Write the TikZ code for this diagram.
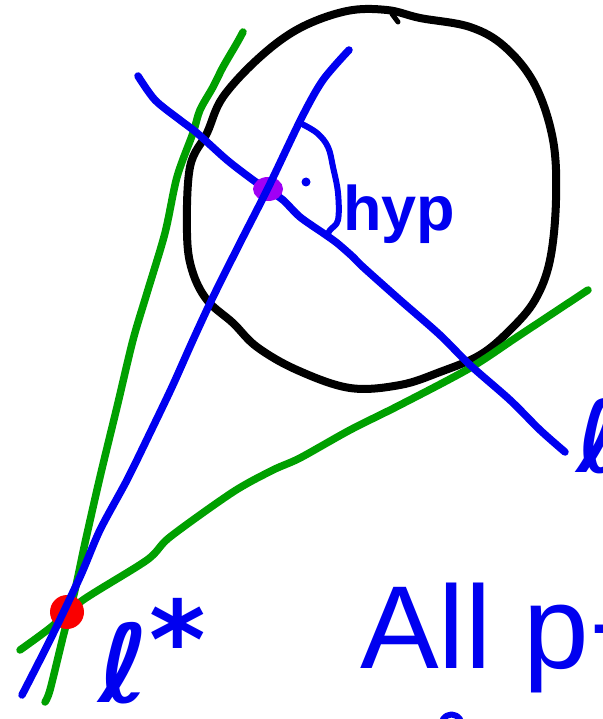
\documentclass[tikz,border=0pt]{standalone}
\usepackage{fontspec}
\setmainfont{Liberation Sans}
\newfontfamily\ellfont{DejaVu Sans}
\definecolor{penblue}{RGB}{0,0,240}
\definecolor{pengreen}{RGB}{0,160,0}
\definecolor{penpurple}{RGB}{160,0,245}
\definecolor{penred}{RGB}{250,0,0}
\begin{document}
\begin{tikzpicture}[x=1pt,y=-1pt,
  pen/.style={line width=7.5pt,line cap=round,line join=round},
  greenpen/.style={pen,draw=pengreen},
  bluepen/.style={pen,draw=penblue},
  blackpen/.style={pen,draw=black,line width=8pt},
  hand/.style={text=penblue,inner sep=0pt,anchor=base west}]
\useasboundingbox (0,0) rectangle (602,719);
\clip (0,0) rectangle (602,719);
% circle
\draw[blackpen] plot[smooth cycle,tension=0.6] coordinates {
 (347,11) (387,10) (420,18) (470,27) (505,47) (535,85) (553,140) (556,200)
 (550,260) (535,300) (510,330) (480,355) (440,372) (400,385) (350,388)
 (297,370) (257,347) (233,323) (207,300) (192,270) (187,233) (190,167)
 (207,133) (223,97) (260,57) (300,28)};
\draw[blackpen,line width=5pt] (392,14) -- (398,22);
% green tangents
\draw[greenpen] plot[smooth,tension=0.5] coordinates {
 (243,32) (237,43) (223,67) (213,87) (200,110) (193,133) (177,177) (165,233)
 (147,293) (133,340) (117,407) (100,477) (85,543) (75,590) (63,637) (50,690) (45,702)};
\draw[greenpen] plot[smooth,tension=0.5] coordinates {
 (20,650) (50,628) (83,600) (147,560) (170,537) (233,492) (273,470) (300,458)
 (350,430) (400,405) (470,368) (520,335) (588,290)};
% blue line through the pole
\draw[bluepen] plot[smooth,tension=0.5] coordinates {
 (138,76) (155,100) (180,120) (197,133) (227,160) (253,180) (268,190) (283,200)
 (300,217) (323,233) (337,243) (353,257) (363,267) (400,300) (440,335)
 (470,365) (510,400) (540,430) (565,452)};
% dots
\fill[penpurple] (268,189) ellipse [x radius=15pt,y radius=12pt];
\node[circle,fill=penred,minimum size=34pt,inner sep=0pt] (pstar) at (67,612) {};
% blue line through p* and center
\draw[bluepen] plot[smooth,tension=0.5] coordinates {
 (22,695) (50,640) (80,577) (100,530) (127,480) (150,433) (172,387) (193,340)
 (213,297) (240,243) (268,188) (302,117) (323,80) (349,50)};
% right angle mark
\draw[bluepen,line width=6pt] plot[smooth,tension=0.6] coordinates {
 (300,123) (317,133) (328,147) (333,167) (338,193) (338,220) (330,230) (327,236)};
\fill[penblue] (306,182) circle (4.5pt);
% labels
\node[hand,font=\bfseries\fontsize{63}{63}\selectfont] (hyp) at (343,230) {hyp};
\node[hand,font=\ellfont\bfseries\fontsize{108}{108}\selectfont] (pl) at (98,702) {ℓ\raisebox{0.22em}{*}};
\node[hand,font=\fontsize{118}{118}\selectfont] (allp) at (360,668) {All p+};
\node[hand,font=\ellfont\bfseries\fontsize{100}{100}\selectfont] (el) at (576,472) {ℓ};
\draw[bluepen,line width=6pt] (443,719) .. controls (448,713) and (455,713) .. (460,719);
\end{tikzpicture}
\end{document}
